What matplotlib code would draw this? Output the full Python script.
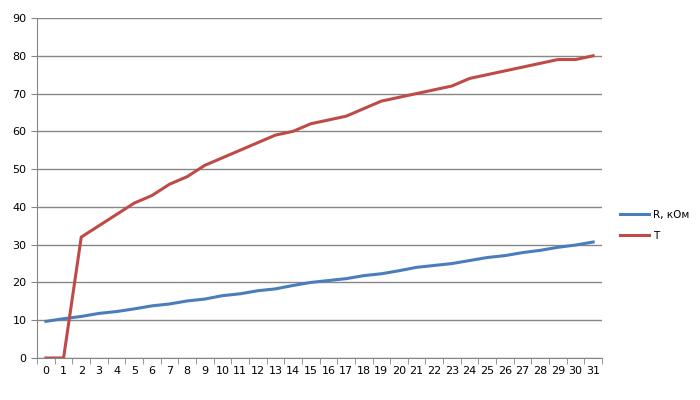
import numpy as np
import matplotlib
matplotlib.use('Agg')
import matplotlib.pyplot as plt

x = list(range(32))
r_kohm = [9.7, 10.4, 11.0, 11.8, 12.3, 13.0, 13.8, 14.3, 15.1, 15.6, 16.5, 17.0,
          17.8, 18.3, 19.2, 20.0, 20.5, 21.0, 21.8, 22.3, 23.1, 24.0, 24.5, 25.0,
          25.8, 26.6, 27.1, 27.9, 28.5, 29.3, 29.9, 30.7]
t_vals = [0, 0, 32, 35, 38, 41, 43, 46, 48, 51, 53, 55, 57, 59, 60, 62, 63, 64,
          66, 68, 69, 70, 71, 72, 74, 75, 76, 77, 78, 79, 79, 80]
labels = ['R, кОм', 'T']

fig = plt.figure(figsize=(7, 4), dpi=100)
ax = fig.add_axes([0.053, 0.105, 0.807, 0.85])

ax.plot(x, r_kohm, color='#4A7EBB', linewidth=2.2, label=labels[0])
ax.plot(x, t_vals, color='#BE4B48', linewidth=2.2, label=labels[1])

ax.set_xlim(-0.5, 31.5)
ax.set_ylim(0, 90)
ax.set_yticks(range(0, 91, 10))
ax.set_xticks(x)
ax.set_xticks(np.arange(-0.5, 32, 1), minor=True)
ax.tick_params(axis='x', which='major', length=0, labelsize=8, pad=6)
ax.tick_params(axis='x', which='minor', length=4, color='#868686', direction='out')
ax.tick_params(axis='y', length=4, color='#868686', labelsize=8, direction='out')
ax.grid(axis='y', color='#868686', linewidth=1)
ax.set_axisbelow(True)
for s in ['top', 'right']:
    ax.spines[s].set_visible(False)
for s in ['left', 'bottom']:
    ax.spines[s].set_color('#868686')

ax.legend(loc='center left', bbox_to_anchor=(1.015, 0.39), frameon=False,
          fontsize=7.5, handlelength=2.8, handletextpad=0.4, labelspacing=1.1)

plt.savefig('out.png', dpi=100)
